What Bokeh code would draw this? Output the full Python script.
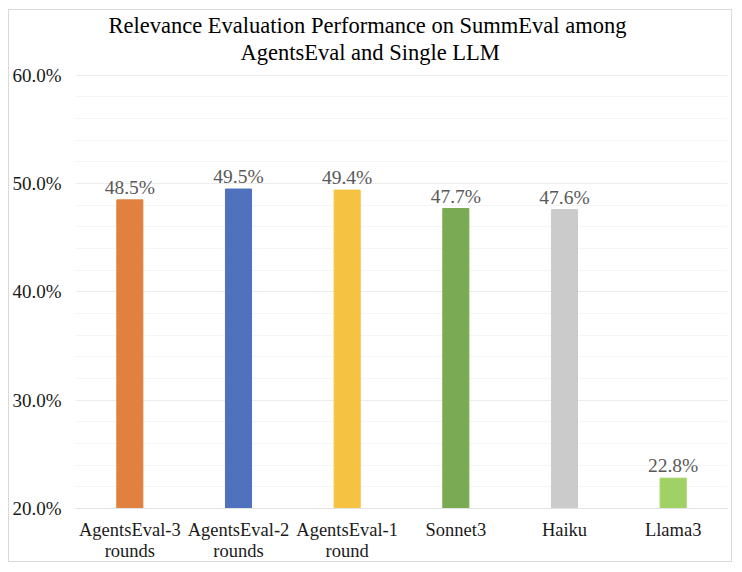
import json
from bokeh.plotting import figure
from bokeh.models import (ColumnDataSource, FixedTicker, PrintfTickFormatter, LabelSet,
                          FactorRange, Title, CategoricalAxis, CustomJSTickFormatter)
from bokeh.core.properties import value
from bokeh.embed import file_html
from bokeh.resources import INLINE

categories = ["AgentsEval-3", "AgentsEval-2", "AgentsEval-1", "Sonnet3", "Haiku", "Llama3"]
tick_line2 = ["rounds", "rounds", "round", "", "", ""]
values = [48.5, 49.5, 49.4, 47.7, 47.6, 22.8]
colors = ["#E0813F", "#4F71BE", "#F5C242", "#7BAA55", "#CCCBCB", "#9FD165"]
y_ticks = [20, 30, 40, 50, 60]
title_lines = ["Relevance Evaluation Performance on SummEval among", "AgentsEval and Single LLM"]

FONT = "Liberation Serif"

src = ColumnDataSource(dict(cat=categories, val=values, color=colors,
                            lab=[f"{v:.1f}%" for v in values]))

p = figure(width=724, height=553, x_range=FactorRange(*categories), y_range=(20, 61.0),
           output_backend="svg", toolbar_location=None, title=None,
           min_border_left=66, min_border_right=6, min_border_top=5, min_border_bottom=5)
p.margin = (9, 0, 0, 8)
p.styles = {"border": "1px solid #d9d9d9"}
p.outline_line_color = None
p.background_fill_color = "white"

p.vbar(x="cat", top="val", bottom=20, width=0.24, color="color", source=src)

labels = LabelSet(x="cat", y="val", text="lab", source=src, text_align="center",
                  text_baseline="alphabetic", y_offset=6, text_font=value(FONT),
                  text_font_size="19.5px", text_color="#595959")
p.add_layout(labels)

p.yaxis.ticker = FixedTicker(ticks=y_ticks, minor_ticks=list(range(20, 61, 2)))
p.yaxis.formatter = PrintfTickFormatter(format="%.1f%%")
p.yaxis.axis_line_color = None
p.yaxis.major_tick_line_color = None
p.yaxis.minor_tick_line_color = None
p.yaxis.major_tick_out = 0
p.yaxis.minor_tick_out = 0
p.yaxis.major_label_text_font = FONT
p.yaxis.major_label_text_font_size = "19px"
p.yaxis.major_label_text_color = "#1a1a1a"
p.yaxis.major_label_standoff = 14

p.xaxis.axis_line_color = "#e3e3e3"
p.xaxis.major_tick_line_color = None
p.xaxis.minor_tick_line_color = None
p.xaxis.major_tick_out = 0
p.xaxis.minor_tick_out = 0
p.xaxis.major_label_text_font = FONT
p.xaxis.major_label_text_font_size = "18.5px"
p.xaxis.major_label_text_line_height = 1.0
p.xaxis.major_label_text_color = "#1a1a1a"
p.xaxis.major_label_standoff = 11

line2_map = json.dumps(dict(zip(categories, tick_line2)))
ax2 = CategoricalAxis(formatter=CustomJSTickFormatter(code=f"const m = {line2_map}; return m[tick] || '';"),
                      axis_line_color=None, major_tick_line_color=None, minor_tick_line_color=None,
                      major_tick_out=0, minor_tick_out=0,
                      major_label_text_font=FONT, major_label_text_font_size="18.5px",
                      major_label_text_line_height=1.0,
                      major_label_text_color="#1a1a1a", major_label_standoff=-2)
p.add_layout(ax2, "below")

p.xgrid.grid_line_color = None
p.ygrid.grid_line_color = "#ececec"
p.ygrid.minor_grid_line_color = "#f5f5f5"

offsets = [33, 165]
for t, off in reversed(list(zip(title_lines, offsets))):
    p.add_layout(Title(text=t, align="left", offset=off, text_font=FONT,
                       text_font_size="22.5px", text_font_style="normal", text_color="black",
                       text_line_height=1.0, standoff=0), "above")

open("out.html", "w").write(file_html(p, INLINE))
